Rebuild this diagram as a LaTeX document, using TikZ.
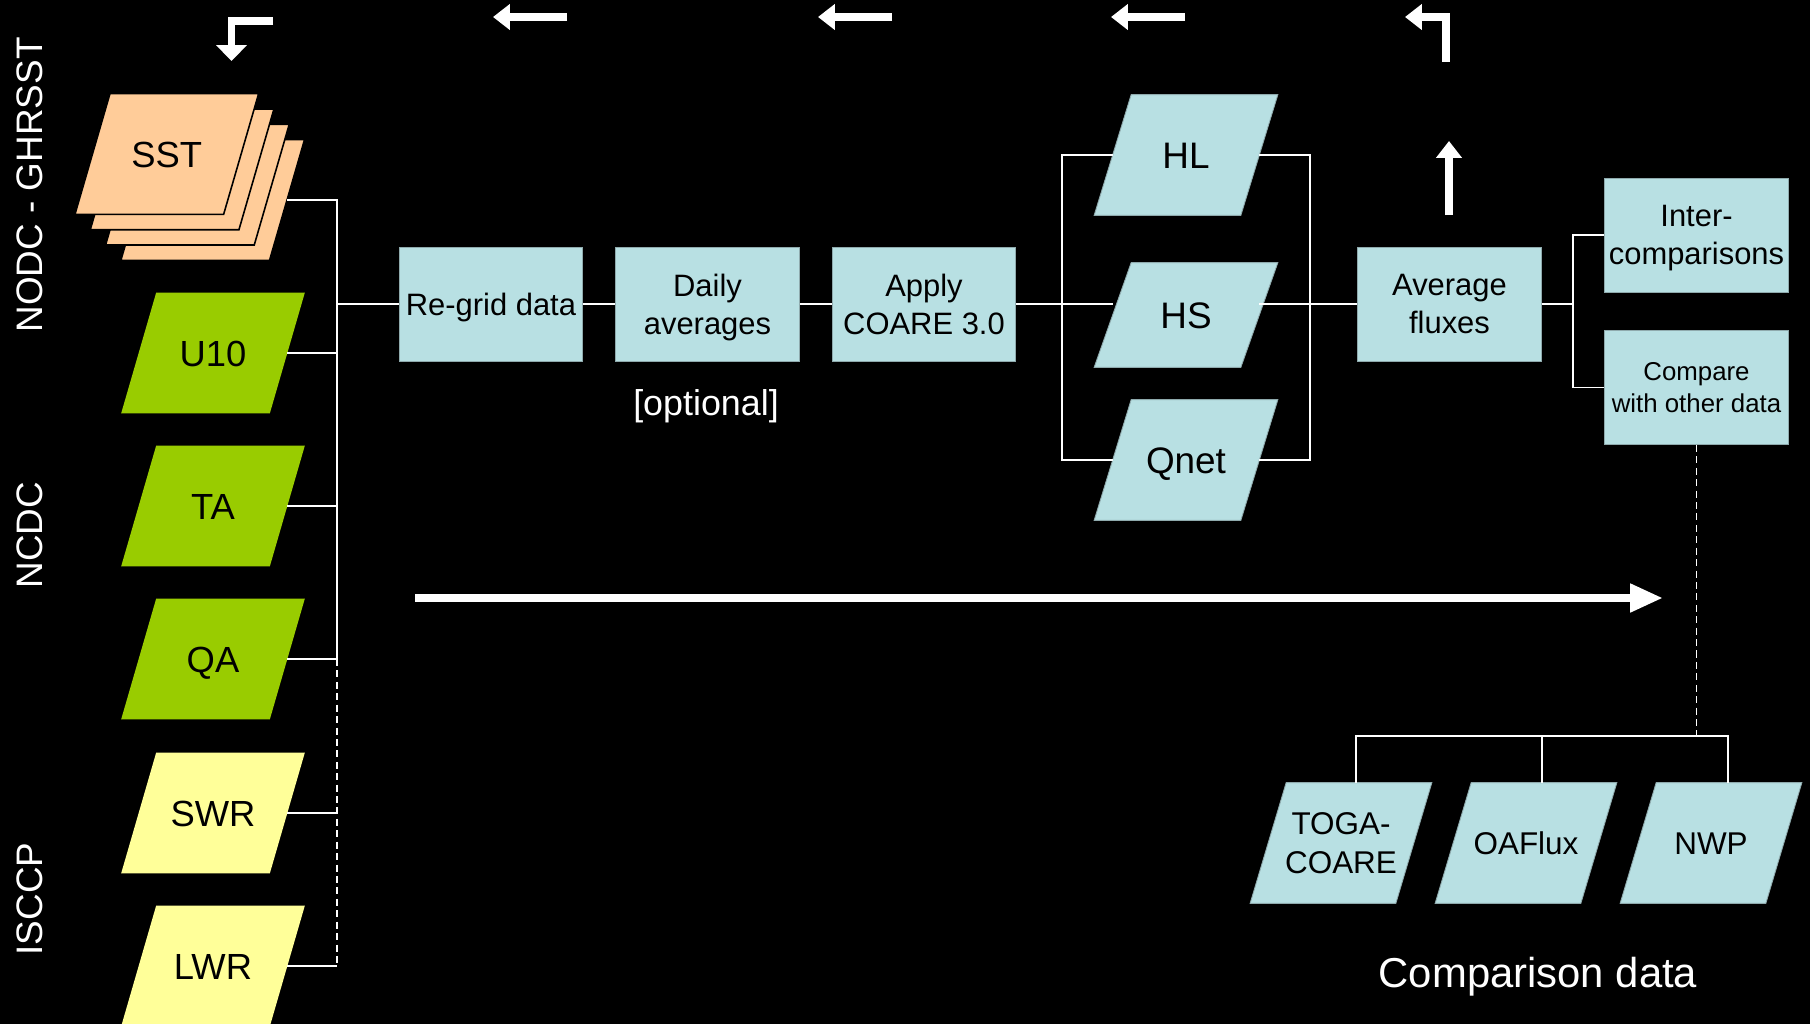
\documentclass[tikz,border=0pt]{standalone}
\usepackage{fontspec}
\setmainfont{Liberation Sans}
\usetikzlibrary{arrows.meta}
\definecolor{boxblue}{HTML}{B8E0E3}
\definecolor{boxedge}{HTML}{8FAAAD}
\definecolor{sstc}{HTML}{FFCC99}
\definecolor{grn}{HTML}{99CC00}
\definecolor{ylw}{HTML}{FFFF99}
\pgfdeclarelayer{bg}
\pgfsetlayers{bg,main}
\newcommand\drawpara[3]{\path[#2] ([xshift=#3]#1.north west) -- ([xshift=#3]#1.north east) -- ([xshift=-#3]#1.south east) -- ([xshift=-#3]#1.south west) -- cycle;}
\begin{document}
\begin{tikzpicture}[x=0.02cm,y=-0.02cm,
 procbox/.style={rectangle, fill=boxblue, draw=boxedge, line width=0.5pt, minimum width=3.67cm, minimum height=2.28cm, inner sep=0pt, align=center, font=\fontsize{17.6pt}{21.5pt}\selectfont, text depth=0pt},
 oneline/.style={text height=12.7pt},
 inbox/.style={rectangle, minimum width=2.96cm, minimum height=2.4cm, inner sep=0pt, font=\fontsize{20.7pt}{24pt}\selectfont, text height=14.9pt, text depth=0pt},
 fluxbox/.style={rectangle, minimum width=2.92cm, inner sep=0pt, font=\fontsize{21pt}{25pt}\selectfont, text height=15.1pt, text depth=0pt},
 cmpbox/.style={rectangle, minimum width=2.9cm, minimum height=2.4cm, inner sep=0pt, align=center, font=\fontsize{17.9pt}{22pt}\selectfont, text depth=0pt},
 conn/.style={draw=white, line width=1.1pt},
 dconn/.style={conn, dash pattern=on 4pt off 2.5pt},
 toparrow/.style={draw=white, line width=4pt, -{Triangle[length=9.6pt,width=14.2pt]}},
 bigarrow/.style={draw=white, line width=4.5pt, -{Triangle[length=18.7pt,width=15.3pt]}},
 sidelabel/.style={text=white, rotate=90, font=\fontsize{21pt}{25pt}\selectfont},
 wlabel/.style={text=white, inner sep=0pt},
]
\useasboundingbox (0,0) rectangle (1810,1024);

% input data
\node[inbox] (SSTd) at (212.7,200) {};
\node[inbox] (SSTc) at (197.4,184.7) {};
\node[inbox] (SSTb) at (182.1,169.4) {};
\node[inbox] (SST) at (166.8,154) {SST};
\node[inbox] (U10) at (213,353) {U10};
\node[inbox] (TA) at (213,506) {TA};
\node[inbox] (QA) at (213,659) {QA};
\node[inbox] (SWR) at (213,813) {SWR};
\node[inbox] (LWR) at (213,966) {LWR};

\node[sidelabel] (lab1) at (30,185) {NODC - GHRSST};
\node[sidelabel] (lab2) at (30,535) {NCDC};
\node[sidelabel] (lab3) at (30,899) {ISCCP};

% processing
\node[procbox, oneline] (Regrid) at (491,304) {Re-grid data};
\node[procbox] (Daily) at (707.5,304) {Daily\\averages};
\node[procbox] (Apply) at (924,304) {Apply\\COARE 3.0};
\node[wlabel, font=\fontsize{20.4pt}{24pt}\selectfont] (opt) at (706,406) {[optional]};

\node[fluxbox, minimum height=2.4cm] (HL) at (1186,155) {HL};
\node[fluxbox, minimum height=2.08cm] (HS) at (1186,315) {HS};
\node[fluxbox, minimum height=2.4cm] (Qnet) at (1186,460) {Qnet};

\node[procbox] (Avg) at (1449.5,304) {Average\\fluxes};
\node[procbox] (Inter) at (1696.5,235) {Inter-\\comparisons};
\node[procbox, font=\fontsize{14.7pt}{18.1pt}\selectfont] (Comp) at (1696.5,387.5) {Compare\\with other data};

\node[cmpbox] (TOGA) at (1341,843) {TOGA-\\COARE};
\node[cmpbox, text height=12.9pt] (OAF) at (1526,843) {OAFlux};
\node[cmpbox, text height=12.9pt] (NWP) at (1711,843) {NWP};
\node[wlabel, font=\fontsize{23.8pt}{28pt}\selectfont] (cmplabel) at (1538,977) {Comparison data};

% shape fills
\begin{pgfonlayer}{bg}
\fill[black] (0,0) rectangle (1810,1024);
\drawpara{SSTd}{fill=sstc,draw=black,line width=0.9pt}{0.35cm}
\drawpara{SSTc}{fill=sstc,draw=black,line width=0.9pt}{0.35cm}
\drawpara{SSTb}{fill=sstc,draw=black,line width=0.9pt}{0.35cm}
\drawpara{SST}{fill=sstc,draw=black,line width=0.9pt}{0.35cm}
\drawpara{U10}{fill=grn}{0.35cm}
\drawpara{TA}{fill=grn}{0.35cm}
\drawpara{QA}{fill=grn}{0.35cm}
\drawpara{SWR}{fill=ylw}{0.35cm}
\drawpara{LWR}{fill=ylw}{0.35cm}
\drawpara{HL}{fill=boxblue,draw=boxedge,line width=0.5pt}{0.37cm}
\drawpara{HS}{fill=boxblue,draw=boxedge,line width=0.5pt}{0.37cm}
\drawpara{Qnet}{fill=boxblue,draw=boxedge,line width=0.5pt}{0.37cm}
\drawpara{TOGA}{fill=boxblue,draw=boxedge,line width=0.5pt}{0.36cm}
\drawpara{OAF}{fill=boxblue,draw=boxedge,line width=0.5pt}{0.36cm}
\drawpara{NWP}{fill=boxblue,draw=boxedge,line width=0.5pt}{0.36cm}
\end{pgfonlayer}

% connectors
\coordinate (bus) at (337,200);
\draw[conn] (SSTd.east) -- (SSTd.east -| bus) -- (QA.east -| bus);
\foreach \n in {U10,TA,QA,SWR,LWR} \draw[conn] (\n.east) -- (\n.east -| bus);
\draw[dconn] (QA.east -| bus) -- (LWR.east -| bus);
\draw[conn] (Regrid.west -| bus) -- (Regrid.west);
\draw[conn] (Regrid.east) -- (Daily.west);
\draw[conn] (Daily.east) -- (Apply.west);

\coordinate (bl) at (1062,304);
\coordinate (br) at (1310,304);
\coordinate (sp) at (1573,304);
\draw[conn] (Apply.east) -- (Apply.east -| HS.west);
\draw[conn] (HL.west) -- (HL.west -| bl) -- (Qnet.west -| bl) -- (Qnet.west);
\draw[conn] (HL.east) -- (HL.east -| br) -- (Qnet.east -| br) -- (Qnet.east);
\draw[conn] (Apply.east -| HS.east) -- (Avg.west);
\draw[conn] (Avg.east) -- (Avg.east -| sp);
\draw[conn] (Inter.west) -- (Inter.west -| sp) -- (Comp.west -| sp) -- (Comp.west);

\coordinate (cj) at (1696,736);
\coordinate (tgt) at ([xshift=0.3cm]TOGA.north);
\coordinate (oft) at ([xshift=0.32cm]OAF.north);
\coordinate (nwt) at ([xshift=0.34cm]NWP.north);
\draw[dconn] (Comp.south) -- (Comp.south |- cj);
\draw[conn] (tgt) -- (tgt |- cj) -- (nwt |- cj) -- (nwt);
\draw[conn] (oft) -- (oft |- cj);

% free arrows
\coordinate (a0s) at (273,21); \coordinate (a0m) at (231.5,21); \coordinate (a0e) at (231.5,61);
\draw[toparrow, -{Triangle[length=9pt,width=17pt]}] (a0s) -- (a0m) -- (a0e);
\coordinate (a1s) at (567,17); \coordinate (a1e) at (493,17);
\draw[toparrow] (a1s) -- (a1e);
\coordinate (a2s) at (892,17); \coordinate (a2e) at (818,17);
\draw[toparrow] (a2s) -- (a2e);
\coordinate (a3s) at (1185,17); \coordinate (a3e) at (1111,17);
\draw[toparrow] (a3s) -- (a3e);
\coordinate (a4s) at (1446,62); \coordinate (a4m) at (1446,17); \coordinate (a4e) at (1405,17);
\draw[toparrow] (a4s) -- (a4m) -- (a4e);
\coordinate (ups) at (1449,215); \coordinate (upe) at (1449,141);
\draw[toparrow] (ups) -- (upe);
\coordinate (bas) at (415,598); \coordinate (bae) at (1663,598);
\draw[bigarrow] (bas) -- (bae);
\end{tikzpicture}
\end{document}
